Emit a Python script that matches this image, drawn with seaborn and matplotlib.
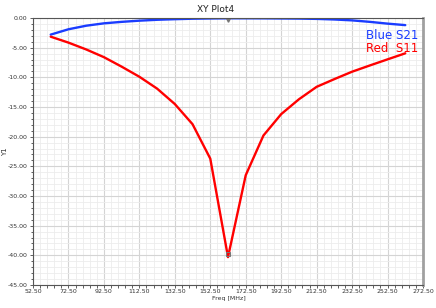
import matplotlib
matplotlib.use("Agg")
import matplotlib.pyplot as plt
from matplotlib.ticker import MultipleLocator, FormatStrFormatter
import numpy as np
import pandas as pd
import seaborn as sns

freq = [62.5, 72.5, 82.5, 92.5, 102.5, 112.5, 122.5, 132.5, 142.5, 152.5, 162.5,
        172.5, 182.5, 192.5, 202.5, 212.5, 222.5, 232.5, 242.5, 252.5, 262.5]
s21 = [-2.8, -1.9, -1.3, -0.9, -0.65, -0.45, -0.3, -0.2, -0.12, -0.08, -0.05,
       -0.05, -0.06, -0.08, -0.1, -0.15, -0.25, -0.4, -0.65, -0.95, -1.2]
s11 = [-3.15, -4.15, -5.3, -6.6, -8.2, -9.9, -11.9, -14.5, -17.9, -23.7, -40.3,
       -26.5, -19.8, -16.2, -13.7, -11.6, -10.3, -9.05, -8.0, -6.97, -5.95]
xticks = [52.5, 72.5, 92.5, 112.5, 132.5, 152.5, 172.5, 192.5, 212.5, 232.5, 252.5, 272.5]
series = ["Blue S21", "Red  S11"]
colors = ["#1a3cff", "#ff0000"]

df = pd.concat([
    pd.DataFrame({"Freq": freq, "Y1": s21, "trace": series[0]}),
    pd.DataFrame({"Freq": freq, "Y1": s11, "trace": series[1]}),
])

sns.set_style("white")
fig = plt.figure(figsize=(4.36, 3.08), dpi=100)
ax = fig.add_axes([33/436, 1 - 285/308, 390/436, 267/308])

sns.lineplot(data=df, x="Freq", y="Y1", hue="trace", palette=colors,
             linewidth=1.7, legend=False, ax=ax, sort=False)

ax.set_xlim(52.5, 272.5)
ax.set_ylim(-45, 0)
ax.set_xticks(xticks)
ax.set_xticks(np.arange(52.5, 272.6, 4.0), minor=True)
ax.yaxis.set_major_locator(MultipleLocator(5))
ax.yaxis.set_minor_locator(MultipleLocator(1))
ax.xaxis.set_major_formatter(FormatStrFormatter("%.2f"))
ax.yaxis.set_major_formatter(FormatStrFormatter("%.2f"))
ax.grid(which="major", color="#d4d4d4", linewidth=0.8)
ax.grid(which="minor", color="#ececec", linewidth=0.6)
ax.set_axisbelow(True)
ax.tick_params(which="both", direction="out", length=2.5, width=0.6, colors="#444444",
               labelsize=4.5, labelcolor="#333333", bottom=True, left=True)
ax.tick_params(axis="x", which="both", pad=0.5)
ax.tick_params(axis="y", which="both", pad=1.5)
ax.tick_params(which="minor", length=1.8)
for s in ["left", "bottom", "top"]:
    ax.spines[s].set_color("#555555")
    ax.spines[s].set_linewidth(0.8)
ax.spines["right"].set_color("#a0a0a0")
ax.spines["right"].set_linewidth(2)

ax.set_xlabel("Freq [MHz]", fontsize=4.5, color="#333333")
ax.xaxis.set_label_coords(0.503, -0.040)
ax.set_ylabel("Y1", fontsize=5, color="#333333")
ax.yaxis.set_label_coords(-0.065, 0.5)

fig.text(216/436, 1 - 9/308, "XY Plot4", ha="center", va="center", fontsize=6.5, color="#222222")

ax.text(0.988, 0.935, series[0], transform=ax.transAxes, ha="right", va="center",
        fontsize=8.5, color=colors[0])
ax.text(0.988, 0.885, series[1], transform=ax.transAxes, ha="right", va="center",
        fontsize=8.5, color=colors[1])

# markers
ax.plot([freq[10]], [s11[10] + 0.6], marker="s", ms=3, mfc="none", mec="#777777", mew=0.8)
ax.plot([freq[10]], [s21[10] - 0.3], marker="v", ms=2.5, color="#777777")

fig.savefig("out.png", dpi=100)
